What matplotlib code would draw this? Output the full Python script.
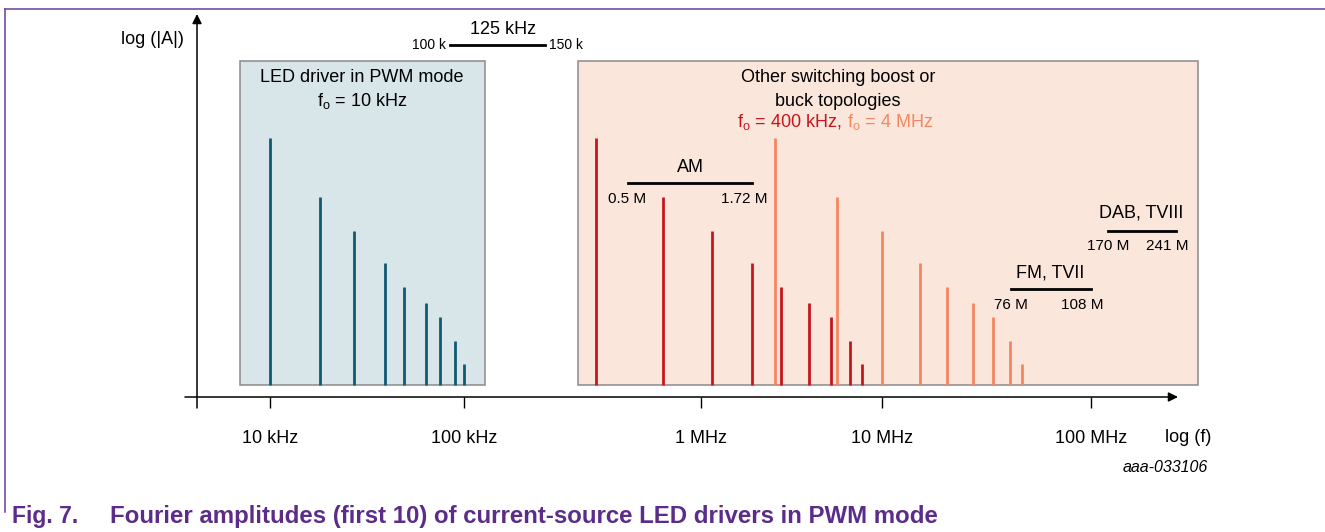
import numpy as np
import matplotlib
matplotlib.use('Agg')
import matplotlib.pyplot as plt
import matplotlib.transforms as mtransforms
from matplotlib.patches import Rectangle
from matplotlib.lines import Line2D
from matplotlib.ticker import NullLocator, FixedLocator, FixedFormatter

plt.rcParams['font.family'] = ['Liberation Sans', 'DejaVu Sans']
plt.rcParams['mathtext.fontset'] = 'custom'
plt.rcParams['mathtext.rm'] = 'Liberation Sans'
plt.rcParams['mathtext.it'] = 'Liberation Sans:italic'
plt.rcParams['mathtext.bf'] = 'Liberation Sans:bold'

# ---------------- data ----------------
tick_freqs = [1e4, 1e5, 1e6, 1e7, 1e8]
tick_labels = ['10 kHz', '100 kHz', '1 MHz', '10 MHz', '100 MHz']
# relative log|A| of harmonics (same pattern for all three spectra)
amplitudes = [259, 200, 166, 134, 110, 94, 80, 56, 33]
amp_floor = 12
led_freqs = [10e3, 18e3, 27e3, 39e3, 49e3, 64e3, 75e3, 90e3, 100e3]
f400k_freqs = [0.36e6, 0.69e6, 1.15e6, 1.91e6, 2.77e6, 3.95e6, 5.23e6, 6.65e6, 7.76e6]
f4M_freqs = [2.56e6, 5.64e6, 10e6, 15.2e6, 20.5e6, 27.2e6, 33.9e6, 40.9e6, 46.8e6]

# ---------------- schematic (non-uniform) log-frequency scale ----------------
W, H = 1325, 532
dec_log = np.array([2.0, 4.0, 5.0, 6.0, 7.0, 8.0, 10.0])
dec_pos = np.array([-118.0, 270.0, 464.0, 701.0, 882.0, 1091.0, 1509.0])


def fwd(f):
    f = np.asarray(f, dtype=float)
    return np.interp(np.log10(np.clip(f, 1e-30, None)), dec_log, dec_pos)


def inv(x):
    x = np.asarray(x, dtype=float)
    return 10 ** np.interp(x, dec_pos, dec_log)


fig = plt.figure(figsize=(W / 100, H / 100), dpi=100)
ax = fig.add_axes([0, 0, 1, 1])
ax.set_xscale('function', functions=(fwd, inv))
ax.set_xlim(float(inv(0)), float(inv(W)))
ax.set_ylim(397 - H, 397)
ax.patch.set_alpha(0)
for s in ['top', 'right', 'left']:
    ax.spines[s].set_visible(False)
ax.spines['bottom'].set_visible(False)
ax.yaxis.set_major_locator(NullLocator())
ax.yaxis.set_minor_locator(NullLocator())

# pixel transform (x from left, y from top) for layout elements
tpix = mtransforms.Affine2D().scale(1 / W, -1 / H).translate(0, 1) + fig.transFigure

# x ticks
ax.xaxis.set_major_locator(FixedLocator(tick_freqs))
ax.xaxis.set_major_formatter(FixedFormatter(tick_labels))
ax.xaxis.set_minor_locator(NullLocator())
ax.xaxis.set_ticks_position('bottom')
ax.spines['bottom'].set_position(('data', 0))
ax.tick_params(axis='x', direction='out', length=8, width=1.0, pad=16,
               labelsize=13, colors='black')

# ---------------- boxes ----------------
ax.add_patch(Rectangle((240, 61), 245, 324, transform=tpix, facecolor='#d8e6ea',
                       edgecolor='#8a8a8a', lw=1.1, zorder=1))
ax.add_patch(Rectangle((578, 61), 620, 324, transform=tpix, facecolor='#fbe6dc',
                       edgecolor='#8a8a8a', lw=1.1, zorder=1))

# ---------------- spectral lines ----------------
ax.vlines(led_freqs, amp_floor, amplitudes, colors='#0f5a70', lw=2.0, zorder=3)
ax.vlines(f400k_freqs, amp_floor, amplitudes, colors='#c5161d', lw=2.0, zorder=4)
ax.vlines(f4M_freqs, amp_floor, amplitudes, colors='#f58662', lw=2.0, zorder=3)

# ---------------- axes arrows ----------------
ax.annotate('', xy=(1178, 397), xytext=(185, 397), xycoords=tpix, textcoords=tpix,
            arrowprops=dict(arrowstyle='-|>', lw=1.1, color='black',
                            mutation_scale=14, shrinkA=0, shrinkB=0), zorder=5)
ax.annotate('', xy=(197, 14), xytext=(197, 408), xycoords=tpix, textcoords=tpix,
            arrowprops=dict(arrowstyle='-|>', lw=1.1, color='black',
                            mutation_scale=14, shrinkA=0, shrinkB=0), zorder=5)

# ---------------- texts ----------------
def T(x, y, s, size=13, ha='center', color='black', **kw):
    ax.text(x, y, s, transform=tpix, ha=ha, va='center', fontsize=size,
            color=color, zorder=6, **kw)


def band(x0, x1, y):
    ax.add_line(Line2D([x0, x1], [y, y], transform=tpix, color='black', lw=2.0,
                       zorder=6))


T(152, 40, 'log (|A|)')
T(1188, 437, 'log (f)')

# 125 kHz band
T(503, 30, '125 kHz')
band(450, 545, 45)
T(446, 45, '100 k', size=10, ha='right')
T(549, 45, '150 k', size=10, ha='left')

# box titles
T(362, 78, 'LED driver in PWM mode')
T(362, 101, r'f$_{\mathrm{o}}$ = 10 kHz')
T(838, 78, 'Other switching boost or')
T(838, 101, 'buck topologies')
T(842, 122, r'f$_{\mathrm{o}}$ = 400 kHz,', ha='right', color='#c5161d')
T(847, 122, r'f$_{\mathrm{o}}$ = 4 MHz', ha='left', color='#f58662')

# radio bands
T(690, 167, 'AM')
band(628, 752, 183)
T(627, 199, '0.5 M', size=11)
T(744, 199, '1.72 M', size=11)

T(1050, 273, 'FM, TVII')
band(1011, 1091, 289)
T(1011, 305, '76 M', size=11)
T(1082, 305, '108 M', size=11)

T(1141, 213, 'DAB, TVIII')
band(1108, 1176, 231)
T(1108, 246, '170 M', size=11)
T(1167, 246, '241 M', size=11)

T(1208, 467, 'aaa-033106', size=11.5, ha='right', style='italic')

# caption + frame
purple = '#5b2c8a'
T(12, 516, 'Fig. 7.', size=16.5, ha='left', color=purple, weight='bold')
T(110, 516, 'Fourier amplitudes (first 10) of current-source LED drivers in PWM mode',
  size=17.3, ha='left', color=purple, weight='bold')
ax.add_line(Line2D([5, W], [9, 9], transform=tpix, color='#6a3d9a', lw=1.1))
ax.add_line(Line2D([5, 5], [9, 512], transform=tpix, color='#6a3d9a', lw=1.1))

fig.savefig('out.png', dpi=100)
